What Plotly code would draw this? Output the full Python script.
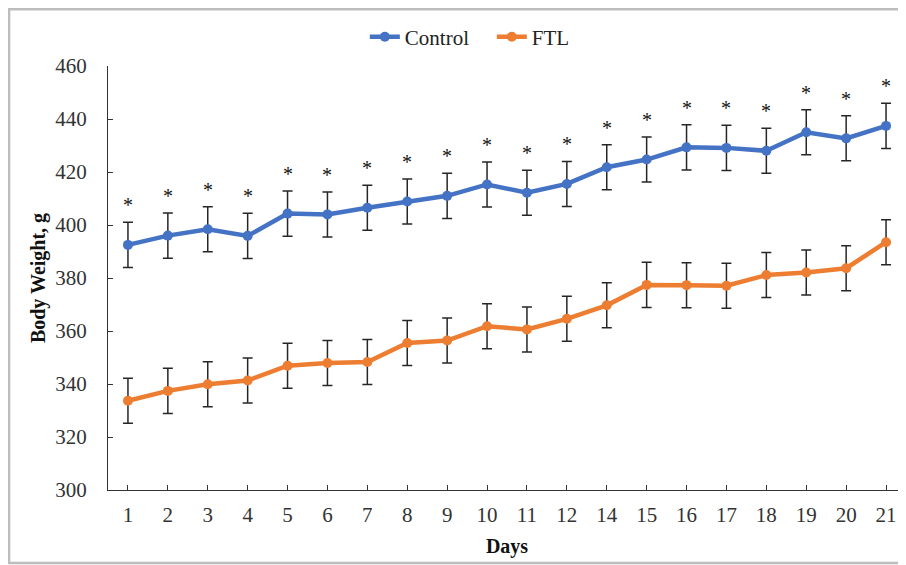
import plotly.graph_objects as go

days = ["1", "2", "3", "4", "5", "6", "7", "8", "9", "10", "11", "12", "14",
        "15", "16", "17", "18", "19", "20", "21"]
control = [392.5, 396.0, 398.4, 395.9, 404.3, 404.0, 406.5, 408.9, 411.0, 415.3,
           412.2, 415.5, 421.8, 424.7, 429.3, 429.1, 428.0, 435.0, 432.7, 437.4]
control_err = [8.5] * 20
ftl = [333.7, 337.4, 339.9, 341.3, 346.9, 347.9, 348.3, 355.5, 356.4, 361.8,
       360.6, 364.6, 369.7, 377.4, 377.3, 377.1, 381.1, 382.1, 383.7, 393.5]
ftl_err = [8.5] * 20
stars = ["*"] * 20

BLUE = "#4472C4"
ORANGE = "#ED7D31"
FONT = "Liberation Serif"

fig = go.Figure()
fig.add_trace(go.Scatter(
    x=days, y=control, name="Control", mode="lines+markers",
    line=dict(color=BLUE, width=4.5), marker=dict(color=BLUE, size=10),
    error_y=dict(type="data", array=control_err, visible=True,
                 color="#262626", thickness=1.5, width=5),
))
fig.add_trace(go.Scatter(
    x=days, y=ftl, name="FTL", mode="lines+markers",
    line=dict(color=ORANGE, width=4.5), marker=dict(color=ORANGE, size=10),
    error_y=dict(type="data", array=ftl_err, visible=True,
                 color="#262626", thickness=1.5, width=5),
))

annotations = [
    dict(x=i, y=c + e, text=s, showarrow=False, xref="x", yref="y",
         yanchor="middle", yshift=17,
         font=dict(family=FONT, size=20, color="#111"))
    for i, (c, e, s) in enumerate(zip(control, control_err, stars))
]

fig.update_layout(
    width=898, height=557,
    margin=dict(l=100, r=0, t=58, b=75),
    paper_bgcolor="white", plot_bgcolor="white",
    font=dict(family=FONT, size=20, color="#333"),
    showlegend=True,
    legend=dict(orientation="h", x=0.481, xanchor="center", y=1.068, yanchor="middle",
                font=dict(family=FONT, size=21, color="#222"),
                entrywidth=82, entrywidthmode="pixels",
                bgcolor="rgba(0,0,0,0)"),
    xaxis=dict(
        type="category", range=[-0.5, 19.5],
        showline=True, linecolor="#333", linewidth=1.3,
        ticks="inside", ticklen=5, tickcolor="#333", tickwidth=1.3,
        showgrid=False, zeroline=False, ticklabelstandoff=6,
        tickfont=dict(family=FONT, size=21, color="#333"),
        title=dict(text="<b>Days</b>", font=dict(family=FONT, size=20, color="#111"),
                   standoff=12),
    ),
    yaxis=dict(
        range=[300, 460], tickvals=[300, 320, 340, 360, 380, 400, 420, 440, 460],
        showline=True, linecolor="#333", linewidth=1.3,
        ticks="inside", ticklen=5, tickcolor="#333", tickwidth=1.3,
        showgrid=False, zeroline=False, ticklabelstandoff=16,
        tickfont=dict(family=FONT, size=21, color="#333"),
        title=dict(text="<b>Body Weight, g</b>", font=dict(family=FONT, size=20, color="#111"),
                   standoff=4),
    ),
    annotations=annotations,
    shapes=[dict(type="rect", xref="paper", yref="paper",
                 x0=-0.124, x1=1.01, y0=-0.172, y1=1.134,
                 line=dict(color="#BDBDBD", width=2.5), layer="below")],
)

fig.write_html("out.html")
